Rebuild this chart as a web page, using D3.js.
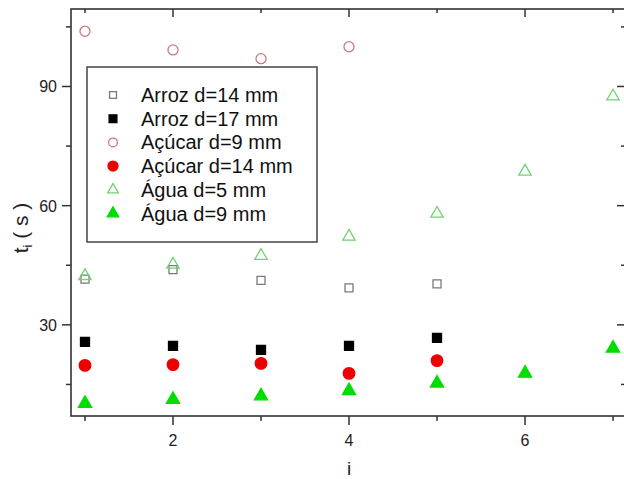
<!DOCTYPE html>
<html><head><meta charset="utf-8">
<script src="https://cdn.jsdelivr.net/npm/d3@7"></script>
<style>body{margin:0;background:#fff}svg{display:block;font-family:"Liberation Sans",Arial,sans-serif}</style>
</head><body><svg id="c" width="624" height="479"></svg>
<script>
const xs = [1,2,3,4,5,6,7];
const arroz14 = [41.5,43.9,41.2,39.3,40.3];
const arroz17 = [25.7,24.7,23.7,24.7,26.7];
const acucar9 = [103.9,99.2,97.0,100.0];
const acucar14 = [19.8,20.0,20.3,17.8,21.0];
const agua5 = [42.3,45.2,47.4,52.2,58.0,68.6,87.5];
const agua9 = [10.2,11.2,12.1,13.4,15.3,17.8,24.1];
const labels = ["Arroz d=14 mm","Arroz d=17 mm","Açúcar d=9 mm","Açúcar d=14 mm","Água d=5 mm","Água d=9 mm"];
const xMajor = [2,4,6], xMinor = [1,3,5,7];
const yMajor = [30,60,90], yMinor = [15,45,75,105];

const svg = d3.select("#c");
const L=71, R=625, T=9, B=416;
const x = d3.scaleLinear().domain([0.841,7.136]).range([L,R]);
const y = d3.scaleLinear().domain([7.06,109.5]).range([B,T]);

const series = [
 {d:arroz14, type:d3.symbolSquare, size:64, fill:"none", stroke:"#7a7a7a"},
 {d:arroz17, type:d3.symbolSquare, size:81, fill:"#000", stroke:"#000"},
 {d:acucar9, type:d3.symbolCircle, size:80, fill:"none", stroke:"#c87a80"},
 {d:acucar14, type:d3.symbolCircle, size:105, fill:"#ee0000", stroke:"#ee0000"},
 {d:agua5, type:d3.symbolTriangle, size:66, fill:"none", stroke:"#6fd36f"},
 {d:agua9, type:d3.symbolTriangle, size:76, fill:"#00dd00", stroke:"#00dd00"}
];

// ticks
const tk = svg.append("g").attr("stroke","#333").attr("stroke-width",1.5);
xMajor.forEach(v=>{tk.append("line").attr("x1",x(v)).attr("x2",x(v)).attr("y1",B).attr("y2",B+9);
  tk.append("line").attr("x1",x(v)).attr("x2",x(v)).attr("y1",T).attr("y2",T+8);});
xMinor.forEach(v=>{tk.append("line").attr("x1",x(v)).attr("x2",x(v)).attr("y1",B).attr("y2",B+5);
  tk.append("line").attr("x1",x(v)).attr("x2",x(v)).attr("y1",T).attr("y2",T+4);});
yMajor.forEach(v=>{tk.append("line").attr("y1",y(v)).attr("y2",y(v)).attr("x1",L).attr("x2",L-9);
  tk.append("line").attr("y1",y(v)).attr("y2",y(v)).attr("x1",R).attr("x2",R-8);});
yMinor.forEach(v=>{tk.append("line").attr("y1",y(v)).attr("y2",y(v)).attr("x1",L).attr("x2",L-5);
  tk.append("line").attr("y1",y(v)).attr("y2",y(v)).attr("x1",R).attr("x2",R-4);});

svg.append("rect").attr("x",L).attr("y",T).attr("width",R-L).attr("height",B-T)
  .attr("fill","none").attr("stroke","#333").attr("stroke-width",1.6);

// tick labels
xMajor.forEach(v=>svg.append("text").attr("x",x(v)).attr("y",446).attr("text-anchor","middle")
  .attr("font-size",16).attr("fill","#222").text(v));
yMajor.forEach(v=>svg.append("text").attr("x",57).attr("y",y(v)+6).attr("text-anchor","end")
  .attr("font-size",16).attr("fill","#222").text(v));

// axis titles
svg.append("text").attr("x",x(4)).attr("y",475).attr("text-anchor","middle").attr("font-size",19).attr("fill","#222").text("i");
const yt = svg.append("text").attr("transform","translate(28,228) rotate(-90)").attr("text-anchor","middle")
  .attr("font-size",21).attr("fill","#222");
yt.append("tspan").text("t");
yt.append("tspan").attr("font-size",13).attr("dy",4).text("i");
yt.append("tspan").attr("dy",-4).text(" ( s )");

// points
series.forEach(s=>{
  svg.append("g").selectAll("path").data(s.d).join("path")
    .attr("transform",(v,i)=>`translate(${x(xs[i])},${y(v)})`)
    .attr("d",d3.symbol().type(s.type).size(s.size)())
    .attr("fill",s.fill).attr("stroke",s.stroke).attr("stroke-width",1.3);
});

// legend
const lg = svg.append("g");
lg.append("rect").attr("x",87).attr("y",67).attr("width",230).attr("height",175)
  .attr("fill","#fff").attr("stroke","#444").attr("stroke-width",1.5);
labels.forEach((t,i)=>{
  const s=series[i], cy=95+i*23.7;
  lg.append("path").attr("transform",`translate(113,${cy})`)
    .attr("d",d3.symbol().type(s.type).size(s.size*0.75)())
    .attr("fill",s.fill).attr("stroke",s.stroke).attr("stroke-width",1.3);
  lg.append("text").attr("x",141).attr("y",cy+7).attr("font-size",20).attr("fill","#111").text(t);
});
</script></body></html>
